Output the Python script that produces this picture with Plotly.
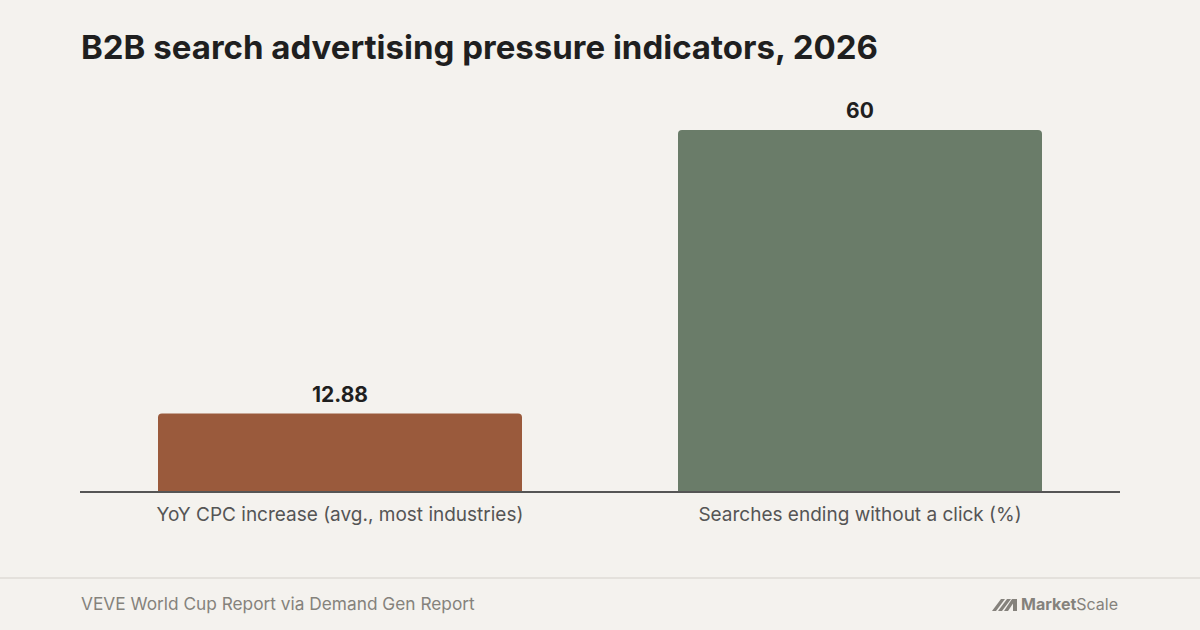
import plotly.graph_objects as go

# Data
categories = ["YoY CPC increase (avg., most industries)", "Searches ending without a click (%)"]
values = [12.88, 60]
value_labels = ["12.88", "60"]
bar_colors = ["#9a5a3c", "#6a7c69"]

title_text = "B2B search advertising pressure indicators, 2026"
source_text = "VEVE World Cup Report via Demand Gen Report"

BG = "#f4f2ee"
FONT = "Inter"

# plot area in pixels: x 80..1120, y 100..491
L, R, T, B = 80, 80, 100, 139
W, H = 1200, 630
PW, PH = W - L - R, H - T - B


def px(x):
    return (x - L) / PW


def py(y):
    return (H - B - y) / PH


fig = go.Figure()
fig.add_trace(go.Bar(
    x=categories,
    y=values,
    marker=dict(color=bar_colors, line=dict(width=0)),
    hoverinfo="skip",
))

# value labels above bars
for cat, val, lab in zip(categories, values, value_labels):
    fig.add_annotation(
        x=cat, y=val, text=f"<b>{lab}</b>", showarrow=False,
        yanchor="bottom", yshift=5,
        font=dict(family=FONT, size=21, color="#1f1f1f"),
    )

# title
fig.add_annotation(
    x=px(79), y=py(47), xref="paper", yref="paper",
    xanchor="left", yanchor="middle", showarrow=False,
    text=f"<b>{title_text}</b>",
    font=dict(family=FONT, size=33, color="#1f1f1f"),
)

# footer separator
fig.add_shape(
    type="line", xref="paper", yref="paper",
    x0=px(0), x1=px(1200), y0=py(578), y1=py(578),
    line=dict(color="#e4e1dc", width=2),
)

# source
fig.add_annotation(
    x=px(79), y=py(603), xref="paper", yref="paper",
    xanchor="left", yanchor="middle", showarrow=False,
    text=source_text,
    font=dict(family=FONT, size=17.3, color="#85827c"),
)

# logo text
fig.add_annotation(
    x=px(1120), y=py(604), xref="paper", yref="paper",
    xanchor="right", yanchor="middle", showarrow=False,
    text="<b>Market</b>Scale",
    font=dict(family=FONT, size=16, color="#85827c"),
)

# logo glyph
def quad(pts):
    return "M " + " L ".join(f"{px(a)},{py(b)}" for a, b in pts) + " Z"

glyph = [
    [(992, 611), (996, 611), (1005, 599), (1001, 599)],
    [(998, 611), (1002, 611), (1011, 599), (1007, 599)],
    [(1004, 611), (1008, 611), (1016, 599), (1012, 599)],
    [(1013, 599), (1017, 599), (1017, 611), (1013, 611)],
]
for g in glyph:
    fig.add_shape(type="path", xref="paper", yref="paper", path=quad(g),
                  fillcolor="#85827c", line=dict(width=0))

fig.update_layout(
    width=W, height=H,
    margin=dict(l=L, r=R, t=T, b=B),
    paper_bgcolor=BG, plot_bgcolor=BG,
    bargap=0.3,
    barcornerradius=4,
    showlegend=False,
    font=dict(family=FONT),
    xaxis=dict(
        showgrid=False, showline=True, linecolor="#555555", linewidth=1.5,
        ticks="", ticklabelstandoff=5,
        tickfont=dict(family=FONT, size=19, color="#555555"),
        fixedrange=True,
    ),
    yaxis=dict(
        range=[0, 65], visible=False, showgrid=False, zeroline=False,
        fixedrange=True,
    ),
)

fig.write_html(
    "out.html",
    config={"displayModeBar": False},
    post_script="document.body.style.margin='0';",
)
